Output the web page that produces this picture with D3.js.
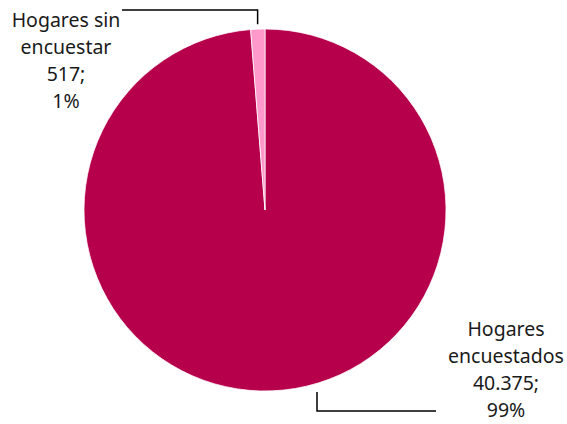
<html>
<head>
<script src="https://cdn.jsdelivr.net/npm/d3@7"></script>
<style>
  body { margin: 0; background: #fff; }
  text { font-family: "Noto Sans", sans-serif; font-size: 19.5px; fill: #1a1a1a; }
</style>
</head>
<body>
<div id="chart"></div>
<script>
  const labels = ['Hogares encuestados', 'Hogares sin encuestar']
  const values = [40375, 517]
  const valueText = ['40.375', '517']
  const colors = ['#B6004B', '#FF99CC']

  const width = 567
  const height = 424
  const cx = 265
  const cy = 210
  const radius = 181

  const svg = d3.select('#chart').append('svg')
    .attr('width', width)
    .attr('height', height)

  const total = d3.sum(values)
  const pie = d3.pie().sort(null).value(d => d)
  const arcs = pie(values)
  const arc = d3.arc().innerRadius(0).outerRadius(radius)

  const g = svg.append('g').attr('transform', `translate(${cx},${cy})`)
  g.selectAll('path').data(arcs).enter()
    .append('path')
      .attr('d', arc)
      .attr('fill', (d, i) => colors[i])
      .attr('stroke', '#fff')
      .attr('stroke-width', 0.75)

  // leader lines
  const outer = d3.arc().innerRadius(radius + 5).outerRadius(radius + 5)
  const topStart = outer.centroid(arcs[1])
  const leaders = [
    [[317, 392], [317, 411], [436, 411]],
    [[cx + topStart[0], cy + topStart[1]], [cx + topStart[0], 10], [122, 10]]
  ]
  svg.selectAll('.leader').data(leaders).enter()
    .append('path')
      .attr('class', 'leader')
      .attr('d', d3.line())
      .attr('fill', 'none')
      .attr('stroke', '#000')
      .attr('stroke-width', 1.5)

  // labels
  const labelPos = [[506, 336], [66, 27]]
  const lineH = 27
  arcs.forEach((a, i) => {
    const pct = Math.round(values[i] / total * 100) + '%'
    const words = labels[i].split(' ')
    const lines = i === 0
      ? [words[0], words.slice(1).join(' '), valueText[i] + ';', pct]
      : [words.slice(0, 2).join(' '), words[2], valueText[i] + ';', pct]
    const t = svg.append('text')
      .attr('text-anchor', 'middle')
      .attr('x', labelPos[i][0])
      .attr('y', labelPos[i][1])
    lines.forEach((l, j) => {
      t.append('tspan')
        .attr('x', labelPos[i][0])
        .attr('dy', j === 0 ? 0 : lineH)
        .text(l)
    })
  })
</script>
</body>
</html>
